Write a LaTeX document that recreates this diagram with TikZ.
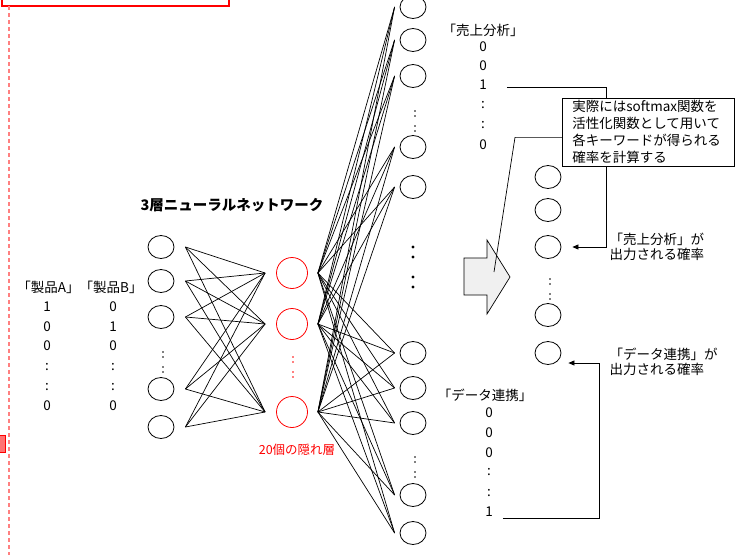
\documentclass[tikz,border=0pt]{standalone}
\usepackage{fontspec}
\setmainfont{Noto Sans CJK JP}
\usetikzlibrary{arrows.meta, shapes.geometric}

\begin{document}
\begin{tikzpicture}[x=1pt, y=-1pt, font=\fontsize{13.5}{15}\selectfont,
    unit/.style={ellipse, draw, line width=0.8pt, minimum width=26pt, minimum height=23pt, inner sep=0pt},
    hid/.style={circle, draw=red, line width=0.8pt, minimum size=31pt, inner sep=0pt},
    val/.style={inner sep=0pt},
    wire/.style={line width=0.7pt},
    arr/.style={line width=0.7pt, -{Triangle[length=6pt,width=5pt]}}]
    \useasboundingbox (0,0) rectangle (739,555);

    \draw[red, line width=1.5pt, fill=white] (2,-10) rectangle (229,6);
    \draw[red!50, line width=1.2pt, dash pattern=on 4pt off 3pt] (9,6) -- (9,555);
    \draw[red, fill=red!55] (-1,435) rectangle (5,452);

    \foreach \y [count=\k] in {247,281,317,389,427} \node[unit] (i\k) at (161,\y) {};
    \foreach \y [count=\k] in {273,324,412} \node[hid] (h\k) at (292,\y) {};
    \foreach \y [count=\k] in {7,40,76,147,187,353,388,423,495,533} \node[unit] (o\k) at (413,\y) {};
    \foreach \y [count=\k] in {177,210,247,315,353} \node[unit] (r\k) at (548,\y) {};

    \foreach \a in {1,...,5} \foreach \b in {1,2,3}
        \draw[wire] ([xshift=11pt]i\a.east) -- ([xshift=-11pt]h\b.west);
    \foreach \b in {1,2,3} \foreach \c in {1,...,10}
        \draw[wire] ([xshift=10pt]h\b.east) -- ([xshift=-5pt]o\c.west);

    \foreach \x/\y in {163/362, 415/121, 415/467, 550/289} \foreach \d in {-10,-5,5,10}
        \fill (\x,{\y+\d}) circle (0.8);
    \foreach \d in {-10,-5,5,10} \fill[red] (293,{367+\d}) circle (0.8);
    \foreach \y in {247,257,277,287} \fill (413,\y) circle (1.6);

    \draw[fill=gray!12, line width=0.7pt] (464,258) -- (487,258) -- (487,240) -- (510,277)
        -- (487,314) -- (487,295) -- (464,295) -- cycle;

    \node[font=\fontsize{14.5}{16}\selectfont\bfseries] (title) at (232,205) {3層ニューラルネットワーク};
    \node[val] (inlab) at (80,287) {「製品A」「製品B」};
    \foreach \y/\a/\b [count=\k] in {307/1/0, 327/0/1, 346/0/0, 367/:/:, 387/:/:, 406/0/0} {
        \node[val] (pa\k) at (47,\y) {\a};
        \node[val] (pb\k) at (113,\y) {\b};
    }
    \node[red, font=\fontsize{12.5}{14}\selectfont] (hlab) at (297,450) {20個の隠れ層};

    \node[val] (salab) at (483,30) {「売上分析」};
    \foreach \y/\t [count=\k] in {47/0, 66/0, 85/1, 105/:, 125/:, 145/0} \node[val] (s\k) at (483,\y) {\t};
    \node[val] (dlab) at (485,395) {「データ連携」};
    \foreach \y/\t [count=\k] in {413/0, 433/0, 453/0, 472/:, 493/:, 512/1} \node[val] (d\k) at (489,\y) {\t};

    \draw[arr] ([xshift=20pt,yshift=-2pt]s3.east) -| ([xshift=45pt]r3.east) -- ([xshift=11pt]r3.east);
    \draw[arr] ([xshift=10pt,yshift=-6pt]d6.east) -| ([xshift=38pt,yshift=-10pt]r5.east) -- ([xshift=7pt,yshift=-10pt]r5.east);

    \node[draw, fill=white, line width=0.7pt, align=left, anchor=north west, text width=152pt,
        inner xsep=10pt, inner ysep=1.5pt, minimum height=68pt, font=\fontsize{13.5}{17}\selectfont]
        (note) at (562,98) {実際にはsoftmax関数を\\活性化関数として用いて\\各キーワードが得られる\\確率を計算する};
    \coordinate (tip) at (494,272);
    \draw[wire] ([yshift=-5pt]note.west) -- ++(-47,0) -- (tip);

    \node[align=left, anchor=west] (pr1) at (606,247) {「売上分析」が\\出力される確率};
    \node[align=left, anchor=west] (pr2) at (606,362) {「データ連携」が\\出力される確率};
\end{tikzpicture}
\end{document}
